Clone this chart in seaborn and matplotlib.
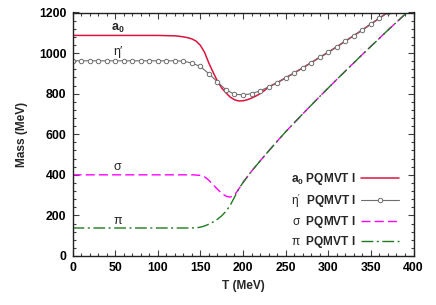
import matplotlib
matplotlib.use("Agg")
import matplotlib.pyplot as plt
import seaborn as sns
import pandas as pd
from matplotlib.ticker import MultipleLocator

# ---------------- data ----------------
T_a0 = [0, 20, 40, 60, 80, 100, 120, 125, 130, 135, 140, 145, 150, 155, 160, 165, 170,
        175, 180, 185, 190, 195, 200, 205, 210, 215, 220, 225, 230, 240, 250, 260, 270,
        280, 290, 300, 310, 320, 330, 340, 350, 360, 370, 380]
m_a0 = [1087, 1087, 1087, 1087, 1087, 1087, 1085, 1083, 1080, 1076, 1070, 1059, 1038, 1003,
        950, 905, 862, 828, 804, 783, 770, 764, 765, 770, 778, 788, 800, 815, 833, 854,
        878, 902, 927, 953, 979, 1004, 1031, 1059, 1086, 1114, 1143, 1172, 1201, 1231]

T_eta = [0, 10, 20, 30, 40, 50, 60, 70, 80, 90, 100, 110, 120, 130, 140, 150, 160, 170,
         180, 190, 200, 210, 220, 230, 240, 250, 260, 270, 280, 290, 300, 310, 320, 330,
         340, 350, 360, 370]
m_eta = [962, 962, 962, 962, 962, 962, 962, 962, 962, 962, 962, 962, 962, 960, 951, 934,
         898, 858, 819, 797, 794, 800, 814, 833, 854, 878, 902, 927, 953, 979, 1004, 1031,
         1059, 1086, 1114, 1143, 1172, 1201]

T_sp = [0, 20, 40, 60, 80, 100, 120, 140, 145, 150, 155, 160, 165, 170, 175, 180, 185,
        190, 195, 200, 210, 220, 230, 240, 250, 260, 270, 280, 290, 300, 310, 320, 330,
        340, 350, 360, 370, 380, 390, 400]
m_sigma = [400, 400, 400, 400, 400, 400, 400, 400, 399, 397, 390, 373, 351, 329, 309, 295,
           290, 300, 330, 362, 418, 468, 517, 565, 612, 656, 700, 743, 786, 828, 870, 911,
           952, 993, 1033, 1073, 1113, 1152, 1191, 1230]
m_pi = [138, 138, 138, 138, 138, 138, 138, 138, 139, 142, 148, 157, 168, 181, 198, 220,
        250, 290, 330, 362, 418, 468, 517, 565, 612, 656, 700, 743, 786, 828, 870, 911,
        952, 993, 1033, 1073, 1113, 1152, 1191, 1230]

series_labels = [r"$\mathbf{a}_\mathbf{0}$ PQMVT I", r"$\mathrm{\eta}'$  PQMVT I",
                 r"$\mathrm{\sigma}$  PQMVT I", r"$\mathrm{\pi}$  PQMVT I"]
curve_labels = [r"$\mathbf{a}_\mathbf{0}$", "η′", "σ", "π"]
label_T = [53, 53, 53, 53]
label_m = [1123, 1005, 440, 174]

x_label = "T (MeV)"
y_label = "Mass (MeV)"

# ---------------- style ----------------
sns.set_style("ticks")
plt.rcParams["font.family"] = ["Liberation Sans", "DejaVu Sans"]
plt.rcParams["mathtext.fontset"] = "custom"
plt.rcParams["mathtext.rm"] = "Liberation Sans"
plt.rcParams["mathtext.it"] = "Liberation Sans:italic"
plt.rcParams["mathtext.bf"] = "Liberation Sans:bold"

fig = plt.figure(figsize=(4.36, 3.05), dpi=100)
ax = fig.add_axes([72.5 / 436, 1 - 256 / 305, (413.5 - 72.5) / 436, (256 - 12.5) / 305])

c_a0 = "#dc143c"
c_eta = "#6e6e6e"
c_sig = "#ff00ff"
c_pi = "#1f7a1f"

df_a0 = pd.DataFrame({"T": T_a0, "m": m_a0})
df_eta = pd.DataFrame({"T": T_eta, "m": m_eta})
df_sig = pd.DataFrame({"T": T_sp, "m": m_sigma})
df_pi = pd.DataFrame({"T": T_sp, "m": m_pi})

sns.lineplot(data=df_a0, x="T", y="m", ax=ax, color=c_a0, lw=1.1, label=series_labels[0])
sns.lineplot(data=df_eta, x="T", y="m", ax=ax, color=c_eta, lw=0.8, marker="o",
             markersize=3.2, markerfacecolor="white", markeredgecolor=c_eta,
             markeredgewidth=0.7, label=series_labels[1])
sns.lineplot(data=df_sig, x="T", y="m", ax=ax, color=c_sig, lw=1.0,
             dashes=False, label=series_labels[2])
sns.lineplot(data=df_pi, x="T", y="m", ax=ax, color=c_pi, lw=1.0,
             dashes=False, label=series_labels[3])
lines = ax.get_lines()
lines[2].set_dashes([6.5, 3])
lines[3].set_dashes([8.5, 2.5, 1.5, 2.5])

for t, m, s in zip(label_T, label_m, curve_labels):
    ax.text(t, m, s, ha="center", va="center", fontsize=9)

ax.set_xlim(0, 400)
ax.set_ylim(0, 1200)
ax.xaxis.set_major_locator(MultipleLocator(50))
ax.xaxis.set_minor_locator(MultipleLocator(10))
ax.yaxis.set_major_locator(MultipleLocator(200))
ax.yaxis.set_minor_locator(MultipleLocator(40))
ax.tick_params(which="both", direction="in", top=True, right=True, width=0.8,
               colors="#404040", labelcolor="black")
ax.tick_params(which="major", length=4, labelsize=8.8, pad=4.5)
ax.tick_params(which="minor", length=2)
for lab in ax.get_xticklabels() + ax.get_yticklabels():
    lab.set_fontweight("bold")
for sp in ax.spines.values():
    sp.set_linewidth(1.0)
    sp.set_color("#202020")

ax.set_xlabel(x_label, fontsize=8.6, fontweight="bold", labelpad=4)
ax.set_ylabel(y_label, fontsize=8.6, fontweight="bold", labelpad=8)

leg = ax.legend(loc="lower right", bbox_to_anchor=((399 - 72.5) / 341, 0.025),
                frameon=False, markerfirst=False, handlelength=3.2, numpoints=1,
                fontsize=8.6, labelspacing=0.35, handletextpad=0.4,
                borderaxespad=0, borderpad=0)
for txt in leg.get_texts():
    txt.set_fontweight("bold")

fig.savefig("out.png", dpi=100)
